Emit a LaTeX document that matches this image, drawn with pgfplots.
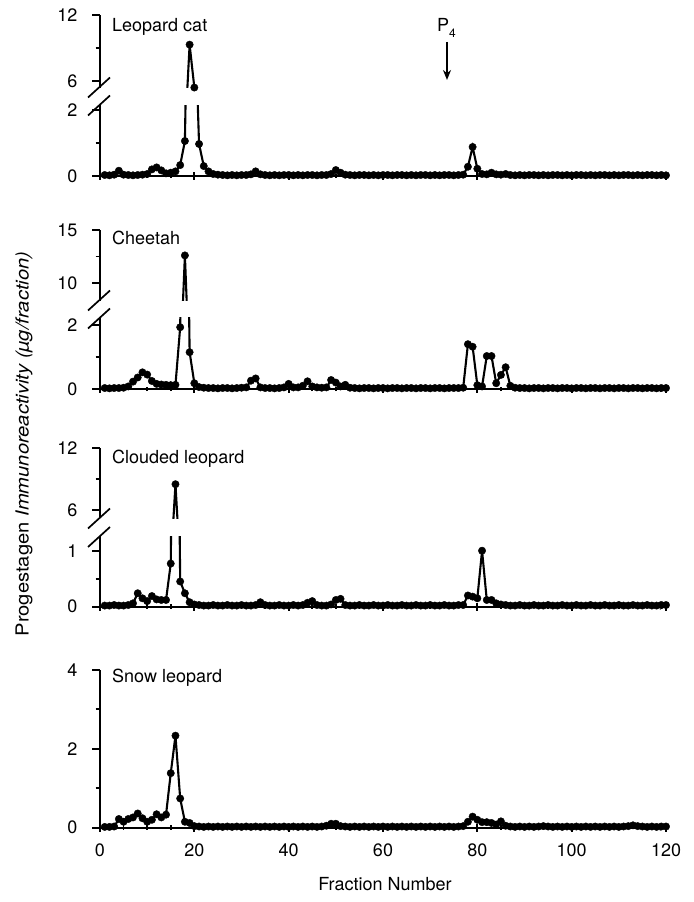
\documentclass[border=0pt]{standalone}
\usepackage{fontspec}
\setmainfont{TeX Gyre Heros}
\usepackage{graphicx}
\usepackage{pgfplots}
\usepackage{pgfplotstable}
\pgfplotsset{compat=1.18}
\usetikzlibrary{arrows.meta}

\newcommand\fs{\fontsize{18bp}{21bp}\selectfont}

\pgfplotsset{
 frame/.style={scale only axis, x=4.7167bp, xmin=0, xmax=120,
   axis y line=left, axis line style={line width=1.7bp, -, black},
   every tick/.style={line width=1.7bp, black},
   tick align=outside, major tick length=8bp, minor tick length=4.5bp,
   xtick={0,20,...,120}, minor xtick={5,10,15,25,30,35,45,50,55,65,70,75,85,90,95,105,110,115},
   ticklabel style={font=\fs}, /pgf/number format/assume math mode=true,
   yticklabel style={xshift=-11bp}, xticklabel style={yshift=-9bp},
   anchor=south west, clip=false},
 lowframe/.style={frame, axis x line=bottom, ymin=0},
 upframe/.style={frame, axis x line=none},
 dat/.style={scale only axis, x=4.7167bp, xmin=-2, xmax=122, hide axis, anchor=south west, clip=true},
 series/.style={black, line width=2.1bp, mark=*, mark size=3.7bp, mark options={line width=0.4bp}},
}

% Leopard cat
\pgfplotstableread[row sep=\\]{f v\\
1 0.03\\ 2 0.02\\ 3 0.04\\ 4 0.16\\ 5 0.04\\ 6 0.03\\ 7 0.02\\ 8 0.03\\ 9 0.04\\ 10 0.06\\
11 0.20\\ 12 0.26\\ 13 0.17\\ 14 0.08\\ 15 0.10\\ 16 0.14\\ 17 0.33\\ 18 1.06\\ 19 9.3\\ 20 5.4\\
21 0.97\\ 22 0.30\\ 23 0.14\\ 24 0.06\\ 25 0.04\\ 26 0.03\\ 27 0.02\\ 28 0.03\\ 29 0.02\\ 30 0.03\\
31 0.03\\ 32 0.05\\ 33 0.14\\ 34 0.05\\ 35 0.03\\ 36 0.02\\ 37 0.03\\ 38 0.02\\ 39 0.03\\ 40 0.03\\
41 0.02\\ 42 0.03\\ 43 0.02\\ 44 0.03\\ 45 0.03\\ 46 0.02\\ 47 0.03\\ 48 0.03\\ 49 0.06\\ 50 0.18\\
51 0.10\\ 52 0.04\\ 53 0.03\\ 54 0.02\\ 55 0.03\\ 56 0.03\\ 57 0.02\\ 58 0.03\\ 59 0.02\\ 60 0.03\\
61 0.03\\ 62 0.02\\ 63 0.03\\ 64 0.03\\ 65 0.02\\ 66 0.03\\ 67 0.02\\ 68 0.03\\ 69 0.03\\ 70 0.02\\
71 0.03\\ 72 0.02\\ 73 0.03\\ 74 0.03\\ 75 0.02\\ 76 0.03\\ 77 0.04\\ 78 0.28\\ 79 0.88\\ 80 0.22\\
81 0.06\\ 82 0.05\\ 83 0.10\\ 84 0.05\\ 85 0.04\\ 86 0.06\\ 87 0.03\\ 88 0.02\\ 89 0.03\\ 90 0.02\\
91 0.03\\ 92 0.03\\ 93 0.02\\ 94 0.03\\ 95 0.02\\ 96 0.03\\ 97 0.03\\ 98 0.02\\ 99 0.03\\ 100 0.02\\
101 0.03\\ 102 0.03\\ 103 0.02\\ 104 0.03\\ 105 0.02\\ 106 0.03\\ 107 0.03\\ 108 0.02\\ 109 0.03\\ 110 0.02\\
111 0.03\\ 112 0.03\\ 113 0.02\\ 114 0.03\\ 115 0.02\\ 116 0.03\\ 117 0.03\\ 118 0.02\\ 119 0.03\\ 120 0.02\\
}\leopardcat

% Cheetah
\pgfplotstableread[row sep=\\]{f v\\
1 0.03\\ 2 0.02\\ 3 0.03\\ 4 0.03\\ 5 0.04\\ 6 0.08\\ 7 0.23\\ 8 0.36\\ 9 0.52\\ 10 0.45\\
11 0.25\\ 12 0.16\\ 13 0.14\\ 14 0.13\\ 15 0.12\\ 16 0.13\\ 17 1.93\\ 18 12.6\\ 19 1.15\\ 20 0.18\\
21 0.06\\ 22 0.04\\ 23 0.03\\ 24 0.03\\ 25 0.02\\ 26 0.03\\ 27 0.03\\ 28 0.02\\ 29 0.03\\ 30 0.04\\
31 0.05\\ 32 0.26\\ 33 0.33\\ 34 0.05\\ 35 0.03\\ 36 0.03\\ 37 0.02\\ 38 0.03\\ 39 0.05\\ 40 0.16\\
41 0.05\\ 42 0.05\\ 43 0.10\\ 44 0.24\\ 45 0.08\\ 46 0.05\\ 47 0.04\\ 48 0.05\\ 49 0.28\\ 50 0.20\\
51 0.08\\ 52 0.13\\ 53 0.04\\ 54 0.03\\ 55 0.02\\ 56 0.03\\ 57 0.03\\ 58 0.02\\ 59 0.03\\ 60 0.03\\
61 0.02\\ 62 0.03\\ 63 0.03\\ 64 0.02\\ 65 0.03\\ 66 0.03\\ 67 0.02\\ 68 0.03\\ 69 0.03\\ 70 0.02\\
71 0.03\\ 72 0.03\\ 73 0.02\\ 74 0.03\\ 75 0.03\\ 76 0.03\\ 77 0.04\\ 78 1.40\\ 79 1.32\\ 80 0.12\\
81 0.08\\ 82 1.03\\ 83 1.03\\ 84 0.18\\ 85 0.44\\ 86 0.68\\ 87 0.10\\ 88 0.04\\ 89 0.03\\ 90 0.03\\
91 0.02\\ 92 0.03\\ 93 0.03\\ 94 0.02\\ 95 0.03\\ 96 0.03\\ 97 0.02\\ 98 0.03\\ 99 0.03\\ 100 0.02\\
101 0.03\\ 102 0.03\\ 103 0.02\\ 104 0.03\\ 105 0.03\\ 106 0.02\\ 107 0.03\\ 108 0.03\\ 109 0.02\\ 110 0.03\\
111 0.03\\ 112 0.02\\ 113 0.03\\ 114 0.03\\ 115 0.02\\ 116 0.03\\ 117 0.03\\ 118 0.02\\ 119 0.03\\ 120 0.03\\
}\cheetah

% Clouded leopard
\pgfplotstableread[row sep=\\]{f v\\
1 0.02\\ 2 0.02\\ 3 0.03\\ 4 0.02\\ 5 0.02\\ 6 0.03\\ 7 0.06\\ 8 0.24\\ 9 0.15\\ 10 0.10\\
11 0.19\\ 12 0.13\\ 13 0.12\\ 14 0.12\\ 15 0.77\\ 16 8.5\\ 17 0.45\\ 18 0.24\\ 19 0.08\\ 20 0.04\\
21 0.03\\ 22 0.02\\ 23 0.02\\ 24 0.03\\ 25 0.02\\ 26 0.02\\ 27 0.03\\ 28 0.02\\ 29 0.02\\ 30 0.03\\
31 0.02\\ 32 0.02\\ 33 0.03\\ 34 0.08\\ 35 0.03\\ 36 0.02\\ 37 0.02\\ 38 0.03\\ 39 0.02\\ 40 0.02\\
41 0.03\\ 42 0.02\\ 43 0.03\\ 44 0.07\\ 45 0.10\\ 46 0.03\\ 47 0.02\\ 48 0.02\\ 49 0.04\\ 50 0.12\\
51 0.14\\ 52 0.03\\ 53 0.02\\ 54 0.02\\ 55 0.03\\ 56 0.02\\ 57 0.02\\ 58 0.03\\ 59 0.02\\ 60 0.02\\
61 0.03\\ 62 0.02\\ 63 0.02\\ 64 0.03\\ 65 0.02\\ 66 0.02\\ 67 0.03\\ 68 0.02\\ 69 0.02\\ 70 0.03\\
71 0.02\\ 72 0.02\\ 73 0.03\\ 74 0.02\\ 75 0.02\\ 76 0.03\\ 77 0.03\\ 78 0.20\\ 79 0.18\\ 80 0.15\\
81 1.00\\ 82 0.12\\ 83 0.12\\ 84 0.06\\ 85 0.04\\ 86 0.03\\ 87 0.02\\ 88 0.02\\ 89 0.03\\ 90 0.02\\
91 0.02\\ 92 0.03\\ 93 0.02\\ 94 0.02\\ 95 0.03\\ 96 0.02\\ 97 0.02\\ 98 0.03\\ 99 0.02\\ 100 0.02\\
101 0.03\\ 102 0.02\\ 103 0.02\\ 104 0.03\\ 105 0.02\\ 106 0.02\\ 107 0.03\\ 108 0.02\\ 109 0.02\\ 110 0.03\\
111 0.02\\ 112 0.02\\ 113 0.03\\ 114 0.02\\ 115 0.02\\ 116 0.03\\ 117 0.02\\ 118 0.02\\ 119 0.03\\ 120 0.03\\
}\clouded

% Snow leopard
\pgfplotstableread[row sep=\\]{f v\\
1 0.02\\ 2 0.02\\ 3 0.03\\ 4 0.22\\ 5 0.15\\ 6 0.22\\ 7 0.26\\ 8 0.36\\ 9 0.24\\ 10 0.15\\
11 0.20\\ 12 0.34\\ 13 0.26\\ 14 0.33\\ 15 1.38\\ 16 2.33\\ 17 0.74\\ 18 0.15\\ 19 0.12\\ 20 0.04\\
21 0.03\\ 22 0.02\\ 23 0.03\\ 24 0.02\\ 25 0.03\\ 26 0.02\\ 27 0.03\\ 28 0.02\\ 29 0.03\\ 30 0.02\\
31 0.03\\ 32 0.02\\ 33 0.03\\ 34 0.02\\ 35 0.03\\ 36 0.02\\ 37 0.03\\ 38 0.02\\ 39 0.03\\ 40 0.02\\
41 0.03\\ 42 0.02\\ 43 0.03\\ 44 0.02\\ 45 0.03\\ 46 0.02\\ 47 0.03\\ 48 0.05\\ 49 0.10\\ 50 0.10\\
51 0.04\\ 52 0.03\\ 53 0.02\\ 54 0.03\\ 55 0.02\\ 56 0.03\\ 57 0.02\\ 58 0.03\\ 59 0.02\\ 60 0.03\\
61 0.02\\ 62 0.03\\ 63 0.02\\ 64 0.03\\ 65 0.02\\ 66 0.03\\ 67 0.02\\ 68 0.03\\ 69 0.02\\ 70 0.03\\
71 0.02\\ 72 0.03\\ 73 0.02\\ 74 0.03\\ 75 0.02\\ 76 0.03\\ 77 0.04\\ 78 0.15\\ 79 0.28\\ 80 0.20\\
81 0.14\\ 82 0.14\\ 83 0.12\\ 84 0.08\\ 85 0.16\\ 86 0.05\\ 87 0.03\\ 88 0.02\\ 89 0.03\\ 90 0.02\\
91 0.03\\ 92 0.02\\ 93 0.03\\ 94 0.04\\ 95 0.03\\ 96 0.02\\ 97 0.03\\ 98 0.02\\ 99 0.03\\ 100 0.02\\
101 0.03\\ 102 0.02\\ 103 0.03\\ 104 0.02\\ 105 0.03\\ 106 0.02\\ 107 0.03\\ 108 0.02\\ 109 0.03\\ 110 0.02\\
111 0.03\\ 112 0.04\\ 113 0.06\\ 114 0.04\\ 115 0.03\\ 116 0.02\\ 117 0.03\\ 118 0.02\\ 119 0.03\\ 120 0.03\\
}\snow

\begin{document}
\begin{tikzpicture}
\path[use as bounding box] (0,0) rectangle (694bp,902bp);

% ---------- Panel 1: Leopard cat ----------
\begin{axis}[lowframe, y=33bp, ymax=2.15, ytick={0,2}, minor ytick={1}, xticklabels={}, at={(100bp,726bp)}]
\end{axis}
\begin{axis}[dat, y=33bp, ymin=-0.3, ymax=2.15, at={(90.567bp,716.1bp)}]
\addplot[series] table[x=f,y=v] {\leopardcat};
\end{axis}
\begin{axis}[upframe, y=11bp, ymin=5.36, ymax=12, ytick={6,12}, minor ytick={9}, at={(100bp,814bp)}]
\end{axis}
\begin{axis}[dat, y=11bp, ymin=5.36, ymax=12.6, at={(90.567bp,814bp)}]
\addplot[series] table[x=f,y=v] {\leopardcat};
\end{axis}

% ---------- Panel 2: Cheetah ----------
\begin{axis}[lowframe, y=32bp, ymax=2.22, ytick={0,2}, minor ytick={1}, xticklabels={}, at={(100bp,513bp)}]
\end{axis}
\begin{axis}[dat, y=32bp, ymin=-0.3, ymax=2.22, at={(90.567bp,503.4bp)}]
\addplot[series] table[x=f,y=v] {\cheetah};
\end{axis}
\begin{axis}[upframe, y=10.6bp, ymin=8.3, ymax=15, ytick={10,15}, minor ytick={12.5}, at={(100bp,601bp)}]
\end{axis}
\begin{axis}[dat, y=10.6bp, ymin=8.3, ymax=15.6, at={(90.567bp,601bp)}]
\addplot[series] table[x=f,y=v] {\cheetah};
\end{axis}

% ---------- Panel 3: Clouded leopard ----------
\begin{axis}[lowframe, y=56bp, ymax=1.26, ytick={0,1}, minor ytick={0.5}, xticklabels={}, at={(100bp,295.3bp)}]
\end{axis}
\begin{axis}[dat, y=56bp, ymin=-0.18, ymax=1.26, at={(90.567bp,285.22bp)}]
\addplot[series] table[x=f,y=v] {\clouded};
\end{axis}
\begin{axis}[upframe, y=10.3bp, ymin=5.2, ymax=12, ytick={6,12}, minor ytick={9}, at={(100bp,383.8bp)}]
\end{axis}
\begin{axis}[dat, y=10.3bp, ymin=5.2, ymax=12.6, at={(90.567bp,383.8bp)}]
\addplot[series] table[x=f,y=v] {\clouded};
\end{axis}

% ---------- Panel 4: Snow leopard ----------
\begin{axis}[lowframe, y=39.5bp, ymax=4, ytick={0,2,4}, minor ytick={1,3}, at={(100bp,74.3bp)}]
\end{axis}
\begin{axis}[dat, y=39.5bp, ymin=-0.25, ymax=4.2, at={(90.567bp,64.425bp)}]
\addplot[series] table[x=f,y=v] {\snow};
\end{axis}

% axis breaks
\foreach \cy in {814.5,796.5,601.5,583.5,383.5,365} {
  \draw[line width=1.7bp] (88bp,\cy bp-10bp) -- (110bp,\cy bp+10bp);
}

% panel titles
\node[font=\fs, anchor=base west, inner sep=0pt] at (112bp,870bp) {Leopard cat};
\node[font=\fs, anchor=base west, inner sep=0pt] at (112bp,657bp) {Cheetah};
\node[font=\fs, anchor=base west, inner sep=0pt] at (112bp,438bp) {Clouded leopard};
\node[font=\fs, anchor=base west, inner sep=0pt] at (112bp,219.3bp) {Snow leopard};

% P4 marker
\node[font=\fs, anchor=base west, inner sep=0pt] at (437bp,870bp) {P\raisebox{-0.3em}{\fontsize{12bp}{12bp}\selectfont 4}};
\draw[line width=1.7bp, -{Stealth[length=10bp,width=8bp]}] (447bp,860bp) -- (447bp,822bp);

% axis labels
\node[font=\fs, anchor=center] at (385bp,18bp) {Fraction Number};
\node[font=\fs, rotate=90, anchor=center] at (24bp,458bp) {\scalebox{1.12}[1]{Progestagen \textit{Immunoreactivity (µg/fraction)}}};
\end{tikzpicture}
\end{document}
